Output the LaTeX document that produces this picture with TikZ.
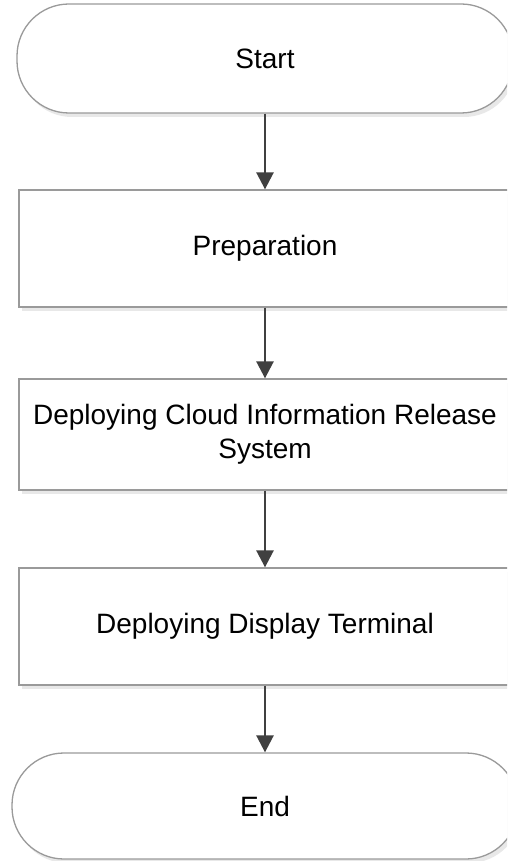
\documentclass[tikz,border=0pt]{standalone}
\usepackage{fontspec}
\setmainfont{Liberation Sans}
\usetikzlibrary{arrows.meta,shadows}
\definecolor{edgegray}{HTML}{9A9A9A}
\definecolor{arrowgray}{HTML}{404040}
\begin{document}
\begin{tikzpicture}[x=1pt,y=1pt,
  base/.style={draw=edgegray, line width=1.3pt, fill=white, align=center,
    font=\fontsize{28}{34}\selectfont, inner sep=0pt,
    drop shadow={shadow xshift=3pt, shadow yshift=-4pt, fill=black!9, opacity=1}},
  terminal/.style={base, rounded corners=52pt, minimum width=496pt},
  procbox/.style={base, minimum width=492pt},
  flow/.style={draw=arrowgray, line width=2.6pt, -{Triangle[width=17pt,length=17pt]}}]
\clip (0,0) rectangle (507,-861);
\fill[white] (0,0) rectangle (507,-861);
\node[terminal, minimum height=109pt] (s) at (265,-58.5) {Start};
\node[procbox, minimum height=117pt] (b1) at (265,-248.5) {Preparation};
\node[procbox, minimum height=111pt] (b2) at (265,-434.5) {Deploying Cloud Information Release\\System};
\node[procbox, minimum height=117pt] (b3) at (265,-626.5) {Deploying Display Terminal};
\node[terminal, minimum width=506pt, minimum height=106pt] (e) at (265,-806) {End};
\draw[flow] (s.south) -- (b1.north);
\draw[flow] (b1.south) -- (b2.north);
\draw[flow] (b2.south) -- (b3.north);
\draw[flow] (b3.south) -- (e.north);
\end{tikzpicture}
\end{document}
